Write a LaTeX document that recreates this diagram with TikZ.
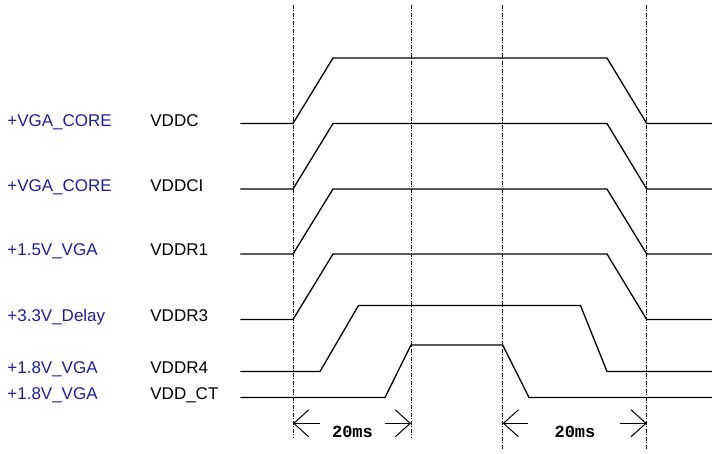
\documentclass[tikz,border=0pt]{standalone}
\usepackage{fontspec}
\setmainfont{Liberation Sans}
\newfontfamily\monob{Liberation Mono}
\usetikzlibrary{arrows.meta}
\definecolor{railblue}{RGB}{30,30,165}
\tikzset{
  sig/.style={line width=0.65pt, line join=miter},
  guide/.style={line width=0.45pt, dash pattern=on 2pt off 0.75pt on 0.5pt off 0.75pt},
  rail/.style={anchor=base west, inner sep=0pt, text=railblue, font=\fontsize{8.5}{10}\selectfont},
  pin/.style={anchor=base west, inner sep=0pt, font=\fontsize{8.5}{10}\selectfont},
  dim/.style={line width=0.5pt, -{Straight Barb[length=7.5pt,width=13.5pt,line width=0.5pt]}},
  dimtext/.style={anchor=base, inner sep=0pt, font=\monob\bfseries\fontsize{8.5}{10}\selectfont}
}
\begin{document}
\begin{tikzpicture}[x=0.5pt,y=-0.5pt]
\useasboundingbox (0,0) rectangle (720,454);

% guide lines
\coordinate (g1t) at (293,5);   \coordinate (g1b) at (293,438);
\coordinate (g2t) at (411,5);   \coordinate (g2b) at (411,438);
\coordinate (g3t) at (502.7,5); \coordinate (g3b) at (502.7,450);
\coordinate (g4t) at (646.7,5); \coordinate (g4b) at (646.7,450);
\foreach \g in {1,2,3,4} \draw[guide] (g\g t) -- (g\g b);

% labels
\node[rail] (r1) at (7,127) {+VGA\_CORE};
\node[rail] (r2) at (7,192) {+VGA\_CORE};
\node[rail] (r3) at (7,256) {+1.5V\_VGA};
\node[rail] (r4) at (7,322) {+3.3V\_Delay};
\node[rail] (r5) at (7,373.5) {+1.8V\_VGA};
\node[rail] (r6) at (7,400) {+1.8V\_VGA};
\node[pin] (p1) at (150,127) {VDDC};
\node[pin] (p2) at (150,192) {VDDCI};
\node[pin] (p3) at (150,256) {VDDR1};
\node[pin] (p4) at (150,322) {VDDR3};
\node[pin] (p5) at (150,373.5) {VDDR4};
\node[pin] (p6) at (150,400) {VDD\_CT};

% waveforms
\draw[sig] (240.5,123.5) -- (293,123.5) -- (333,58) -- (607,58) -- (646.7,123.5) -- (712,123.5);
\draw[sig] (240.5,189) -- (293,189) -- (333,123.5) -- (607,123.5) -- (646.7,189) -- (712,189);
\draw[sig] (240.5,254) -- (293,254) -- (333,189) -- (607,189) -- (646.7,254) -- (712,254);
\draw[sig] (240.5,319.5) -- (293,319.5) -- (333,254) -- (607,254) -- (646.7,319.5) -- (712,319.5);
\draw[sig] (240.5,371.5) -- (320,371.5) -- (358.5,305.5) -- (580.5,305.5) -- (607,371.5) -- (712,371.5);
\draw[sig] (240.5,397.5) -- (385,397.5) -- (411,345) -- (502.7,345) -- (529,397.5) -- (712,397.5);

% dimension arrows
\coordinate (a1s) at (320,423.3);   \coordinate (a1e) at (293,423.3);
\coordinate (a2s) at (385,423.3);   \coordinate (a2e) at (411,423.3);
\coordinate (a3s) at (528,423.3);   \coordinate (a3e) at (502.7,423.3);
\coordinate (a4s) at (620,423.3);   \coordinate (a4e) at (646.7,423.3);
\foreach \a in {1,2,3,4} \draw[dim] (a\a s) -- (a\a e);
\node[dimtext] (d1) at (352.5,438) {20ms};
\node[dimtext] (d2) at (575,438) {20ms};
\end{tikzpicture}
\end{document}
